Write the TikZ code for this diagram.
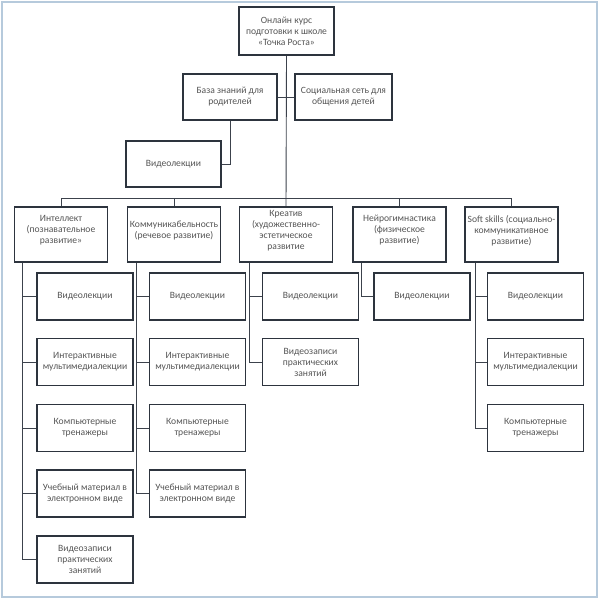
\documentclass[tikz,border=0pt]{standalone}
\usepackage{fontspec}
\setmainfont{Carlito}
\definecolor{frame}{RGB}{182,202,220}
\definecolor{boxc}{RGB}{45,52,62}
\definecolor{linec}{RGB}{60,66,76}
\definecolor{txt}{RGB}{85,85,85}
\begin{document}
\begin{tikzpicture}[x=1pt,y=-1pt,
  box/.style={draw=boxc,line width=1.7pt,fill=white,inner sep=1pt,align=center,
    font=\fontsize{9.6}{11}\selectfont,text=txt},
  leaf/.style={box,minimum width=96pt,minimum height=47pt},
  cat/.style={box,minimum width=93pt,minimum height=55pt},
  cattext/.style={align=center,inner sep=0pt,font=\fontsize{9.6}{11}\selectfont,text=txt},
  conn/.style={draw=linec,line width=0.9pt}]
\useasboundingbox (0,0) rectangle (600,600);
\draw[frame,line width=2pt] (2,2) rectangle (597,597);

% top level
\node[box,minimum width=95pt,minimum height=48pt] (top) at (286.5,31) {Онлайн курс\\подготовки к школе\\«Точка Роста»};
\node[box,minimum width=94pt,minimum height=46pt] (baza) at (230,97) {База знаний для\\родителей};
\node[box,minimum width=97pt,minimum height=46pt] (soc) at (343.5,97) {Социальная сеть для\\общения детей};
\node[box,minimum width=95pt,minimum height=46pt] (vl) at (173.5,164) {Видеолекции};

% categories
\node[cat] (l1) at (61,234.5) {};
\node[cat] (l2) at (174,234.5) {};
\node[cat] (l3) at (286,234.5) {};
\node[cat] (l4) at (399.5,234.5) {};
\node[cat] (l5) at (511.5,234.5) {};
\node[cattext] (t1) at ([yshift=4pt]l1.center) {Интеллект\\(познавательное\\развитие»};
\node[cattext] (t2) at ([yshift=4pt]l2.center) {Коммуникабельность\\(речевое развитие)};
\node[cattext] (t3) at ([yshift=4pt]l3.center) {Креатив\\(художественно-\\эстетическое\\развитие};
\node[cattext] (t4) at ([yshift=4pt]l4.center) {Нейрогимнастика\\(физическое\\развитие)};
\node[cattext] (t5) at ([yshift=4pt]l5.center) {Soft skills (социально-\\коммуникативное\\развитие)};

% leaves column 1
\node[leaf] (a1) at (85,296.5) {Видеолекции};
\node[leaf] (a2) at (85,362) {Интерактивные\\мультимедиалекции};
\node[leaf] (a3) at (85,428) {Компьютерные\\тренажеры};
\node[leaf] (a4) at (85,493.5) {Учебный материал в\\электронном виде};
\node[leaf] (a5) at (85,559.5) {Видеозаписи\\практических\\занятий};
% column 2
\node[leaf] (b1) at (197.5,296.5) {Видеолекции};
\node[leaf] (b2) at (197.5,362) {Интерактивные\\мультимедиалекции};
\node[leaf] (b3) at (197.5,428) {Компьютерные\\тренажеры};
\node[leaf] (b4) at (197.5,493.5) {Учебный материал в\\электронном виде};
% column 3
\node[leaf] (c1) at (310.5,296.5) {Видеолекции};
\node[leaf] (c2) at (310.5,362) {Видеозаписи\\практических\\занятий};
% column 4
\node[leaf] (d1) at (422,296.5) {Видеолекции};
% column 5
\node[leaf] (e1) at (535.5,296.5) {Видеолекции};
\node[leaf] (e2) at (535.5,362) {Интерактивные\\мультимедиалекции};
\node[leaf] (e3) at (535.5,428) {Компьютерные\\тренажеры};

% connectors top part
\coordinate (bus) at (0,198);
\draw[conn] (top.south) -- (l3.north);
\draw[conn] (baza.east) -- (soc.west);
\draw[conn] (vl.east) -| (baza.south);
\draw[conn] (l1.north) -- (l1.north |- bus) -- (l5.north |- bus) -- (l5.north);
\draw[conn] (l2.north) -- (l2.north |- bus);
\draw[conn] (l4.north) -- (l4.north |- bus);

% column spines
\coordinate (v1) at ([xshift=9pt]l1.south west);
\coordinate (v2) at ([xshift=10pt]l2.south west);
\coordinate (v3) at ([xshift=11pt]l3.south west);
\coordinate (v4) at ([xshift=9pt]l4.south west);
\coordinate (v5) at ([xshift=11pt]l5.south west);
\draw[conn] (v1) |- (a5.west);
\foreach \n in {a1,a2,a3,a4} \draw[conn] (\n.west) -- (\n.west -| v1);
\draw[conn] (v2) |- (b4.west);
\foreach \n in {b1,b2,b3} \draw[conn] (\n.west) -- (\n.west -| v2);
\draw[conn] (v3) |- (c2.west);
\draw[conn] (c1.west) -- (c1.west -| v3);
\draw[conn] (v4) |- (d1.west);
\draw[conn] (v5) |- (e3.west);
\foreach \n in {e1,e2} \draw[conn] (\n.west) -- (\n.west -| v5);
\end{tikzpicture}
\end{document}
